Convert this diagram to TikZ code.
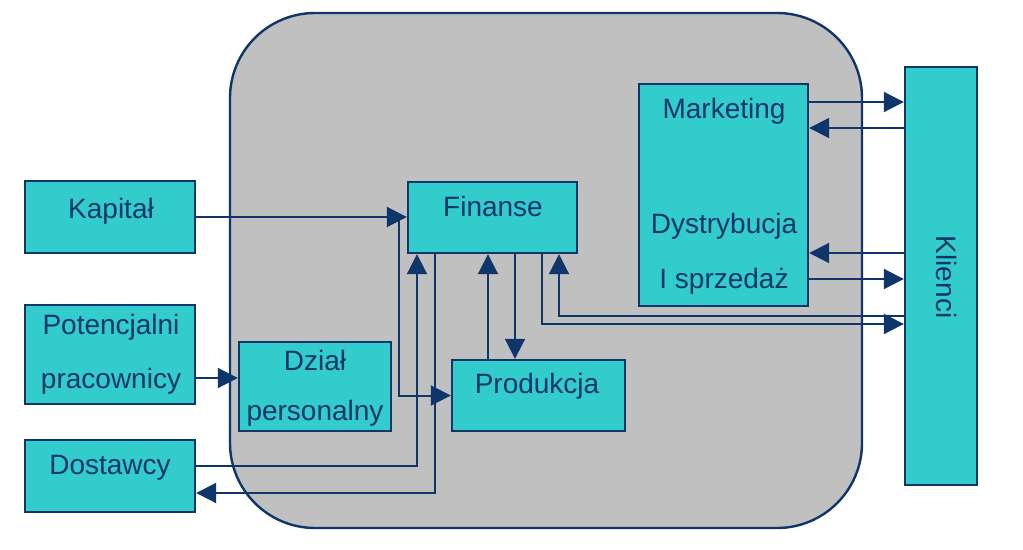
\documentclass[tikz,border=0pt]{standalone}
\usepackage{fontspec}
\setmainfont{Liberation Sans}
\usetikzlibrary{arrows.meta,positioning,calc}

\definecolor{granat}{RGB}{14,54,106}
\definecolor{turkus}{RGB}{51,204,204}
\definecolor{szary}{RGB}{192,192,192}

\begin{document}
\begin{tikzpicture}
  [x=1pt,y=-1pt,
   font=\fontsize{28}{33}\selectfont,
   boxN/.style={draw=granat,fill=turkus,line width=2.4pt,inner sep=0pt},
   txtN/.style={text=granat,anchor=base,inner sep=0pt},
   conn/.style={draw=granat,line width=2pt},
   arr/.style={conn,-{Triangle[length=20pt,width=20pt]}},
  ]
 \useasboundingbox (0,0) rectangle (1023,549);

 % firma
 \node[draw=granat,fill=szary,line width=2.4pt,rounded corners=85pt,
       minimum width=632pt,minimum height=515pt] (firma) at (546,270.5) {};

 % otoczenie
 \node[boxN,minimum width=170pt,minimum height=72pt] (kapital) at (110,217) {};
 \node[boxN,minimum width=170pt,minimum height=99pt] (pracownicy) at (110,354.5) {};
 \node[boxN,minimum width=170pt,minimum height=72pt] (dostawcy) at (110,476) {};
 \node[boxN,minimum width=72pt,minimum height=418pt] (klienci) at (941,276) {};

 % dzialy
 \node[boxN,minimum width=152pt,minimum height=89pt] (dzial) at (315,386.5) {};
 \node[boxN,minimum width=169pt,minimum height=71pt] (finanse) at (492.5,217.5) {};
 \node[boxN,minimum width=173pt,minimum height=71pt] (produkcja) at (538.5,395.5) {};
 \node[boxN,minimum width=169pt,minimum height=222pt] (marketing) at (723.5,195) {};

 % teksty
 \node[txtN] (kapitalT) at (111,218) {Kapitał};
 \node[txtN] (pracownicyT1) at (111,334) {Potencjalni};
 \node[txtN] (pracownicyT2) at (111,388) {pracownicy};
 \node[txtN] (dostawcyT) at (110,474) {Dostawcy};
 \node[txtN] (dzialT1) at (315,370) {Dział};
 \node[txtN] (dzialT2) at (315,420) {personalny};
 \node[txtN] (finanseT) at (493,216) {Finanse};
 \node[txtN] (produkcjaT) at (537,393) {Produkcja};
 \node[txtN] (marketingT) at (724,118) {Marketing};
 \node[txtN] (dystrybucjaT) at (724,233) {Dystrybucja};
 \node[txtN] (sprzedazT) at (724,288) {I sprzedaż};
 \node[text=granat,rotate=-90] (klienciT) at (946,277) {Klienci};

 % przeplywy
 \draw[arr] (kapital.east) -- (kapital.east -| finanse.west);
 \coordinate (rozg) at (399,218);
 \draw[arr] (rozg) |- (produkcja.west);
 \draw[arr] (pracownicy.east |- 0,378) -- (dzial.west |- 0,378);
 \draw[arr] (dostawcy.east |- 0,466) -| (finanse.south -| 417,0);
 \draw[arr] (finanse.south -| 435,0) |- (dostawcy.east |- 0,493);
 \draw[arr] (produkcja.north -| 488,0) -- (finanse.south -| 488,0);
 \draw[arr] (finanse.south -| 515,0) -- (produkcja.north -| 515,0);
 \draw[arr] (finanse.south -| 542,0) |- (klienci.west |- 0,324);
 \draw[arr] (klienci.west |- 0,316) -| (finanse.south -| 559,0);
 \draw[arr] (marketing.east |- 0,102) -- (klienci.west |- 0,102);
 \draw[arr] (klienci.west |- 0,128) -- (marketing.east |- 0,128);
 \draw[arr] (klienci.west |- 0,253) -- (marketing.east |- 0,253);
 \draw[arr] (marketing.east |- 0,279) -- (klienci.west |- 0,279);
\end{tikzpicture}
\end{document}
